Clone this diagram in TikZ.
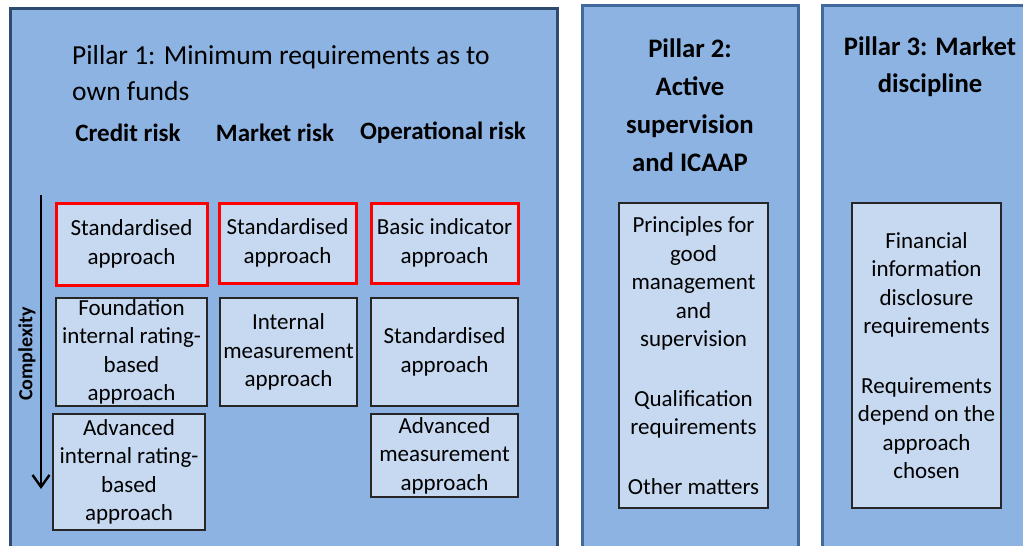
\documentclass[tikz,border=0pt]{standalone}
\usepackage{fontspec}
\setmainfont{Carlito}
\usetikzlibrary{arrows.meta}
\definecolor{pfill}{HTML}{8DB3E2}
\definecolor{bfill}{HTML}{C6D9F1}
\definecolor{pedge}{HTML}{2E4A6E}
\definecolor{qedge}{HTML}{42699C}
\newcommand{\fsz}[2]{\fontsize{#1}{#2}\selectfont}
\tikzset{
    pillar/.style={draw=qedge,fill=pfill,line width=3pt},
    abox/.style={draw=black!85,fill=bfill,line width=1.3pt,align=center,inner sep=0pt,font=\fsz{23}{28.5}},
    rbox/.style={abox,draw=red,line width=3pt},
    hd/.style={font=\bfseries\fsz{25}{30},inner sep=0pt},
    ttl/.style={font=\bfseries\fsz{26.7}{38},align=center,inner sep=0pt},
}

\begin{document}
\begin{tikzpicture}[x=1pt,y=-1pt]
\clip (0,0) rectangle (1023,546);
\fill[white] (0,0) rectangle (1023,546);
% the three pillars
\draw[pillar,draw=pedge] (10,8) rectangle (557,570);
\draw[pillar] (582,5) rectangle (798,570);
\draw[pillar] (822,5) rectangle (1040,570);

% pillar 1
\node[anchor=west,align=left,inner sep=0pt,font=\fsz{27.5}{36}] (t1) at (72,73)
    {Pillar 1: Minimum requirements as to\\own funds};
\node[hd] (credit) at (128,133) {Credit risk};
\node[hd] (market) at (275,133) {Market risk};
\node[hd] (oper)   at (443,133) {Operational risk};

\node[rbox,minimum width=151pt,minimum height=82pt] (c1) at (131.5,244) {Standardised\\approach};
\node[rbox,minimum width=137pt,minimum height=80pt] (m1) at (287.5,243) {Standardised\\approach};
\node[rbox,minimum width=147pt,minimum height=80pt] (o1) at (444.5,243) {Basic indicator\\approach};

\node[abox,minimum width=151pt,minimum height=108pt] (c2) at (131.5,352) {Foundation\\internal rating-\\based\\approach};
\node[abox,minimum width=137pt,minimum height=108pt] (m2) at (288.5,352) {Internal\\measurement\\approach};
\node[abox,minimum width=147pt,minimum height=108pt] (o2) at (444.5,352) {Standardised\\approach};

\node[abox,minimum width=152pt,minimum height=116pt] (c3) at (129,472) {Advanced\\internal rating-\\based\\approach};
\node[abox,minimum width=147pt,minimum height=83pt] (o3) at (444.5,455.5) {Advanced\\measurement\\approach};

\coordinate (ctop) at (41,195);
\coordinate (cbot) at (41,489);
\draw[-{Straight Barb[length=12pt,width=17pt,line width=2.4pt]},line width=2.2pt] (ctop) -- (cbot);
\node[rotate=90,inner sep=0pt,font=\bfseries\fsz{20}{24}] (cx) at (27,354) {Complexity};

% pillar 2
\node[ttl] (t2) at (690,105) {Pillar 2:\\Active\\supervision\\and ICAAP};
\node[abox,minimum width=149pt,minimum height=305pt] (p2) at (693.5,355.5)
    {Principles for\\good\\management\\and\\supervision\\[31pt]Qualification\\requirements\\[31pt]Other matters};

% pillar 3
\node[ttl,font=\bfseries\fsz{26.7}{37}] (t3) at (930,66.5) {Pillar 3: Market\\discipline};
\node[abox,minimum width=149pt,minimum height=305pt] (p3) at (926.5,355.5)
    {Financial\\information\\disclosure\\requirements\\[31pt]Requirements\\depend on the\\approach\\chosen};
\end{tikzpicture}
\end{document}
